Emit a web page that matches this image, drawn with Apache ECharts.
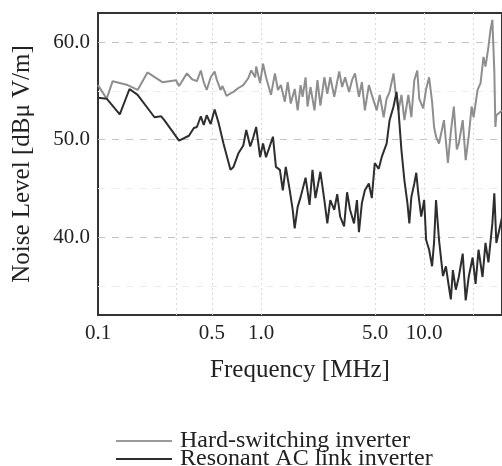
<!DOCTYPE html>
<html>
<head>
<meta charset="utf-8">
<script src="https://cdn.jsdelivr.net/npm/echarts@6/dist/echarts.min.js"></script>
<style>
  html, body { margin: 0; padding: 0; background: #fff; }
  #chart { width: 502px; height: 466px; }
</style>
</head>
<body>
<div id="chart"></div>
<script>
// frequency [MHz] / noise level [dBuV/m]
var hardFreq = [0.100, 0.113, 0.123, 0.152, 0.175, 0.201, 0.248, 0.301, 0.314, 0.351, 0.377, 0.404, 0.427, 0.445, 0.464, 0.491, 0.519, 0.534, 0.564, 0.580, 0.614, 0.658, 0.677, 0.726, 0.778, 0.834, 0.870, 0.920, 0.933, 0.986, 1.028, 1.072, 1.150, 1.216, 1.268, 1.322, 1.398, 1.457, 1.520, 1.607, 1.676, 1.747, 1.797, 1.874, 1.927, 2.009, 2.125, 2.216, 2.310, 2.443, 2.547, 2.656, 2.809, 3.012, 3.141, 3.274, 3.462, 3.611, 3.765, 3.981, 4.151, 4.329, 4.578, 4.773, 5.117, 5.337, 5.642, 5.884, 6.136, 6.488, 6.672, 6.956, 7.255, 7.566, 7.998, 8.341, 8.698, 9.070, 9.326, 9.861, 10.28, 10.72, 11.18, 11.50, 11.82, 12.33, 13.22, 13.98, 14.57, 15.20, 15.85, 16.30, 17.23, 17.97, 18.74, 19.54, 20.09, 21.25, 22.16, 23.10, 23.76, 24.77, 25.47, 26.18, 26.92, 27.32, 27.70, 30.0];
var hardLevel = [55.6, 54.2, 56.0, 55.6, 55.1, 56.9, 55.9, 56.1, 55.5, 56.8, 56.2, 56.0, 57.1, 55.9, 55.1, 56.4, 57.0, 56.2, 55.1, 55.5, 54.5, 54.8, 54.9, 55.3, 55.6, 56.3, 57.1, 56.4, 57.5, 55.8, 57.8, 56.4, 54.6, 56.8, 55.1, 55.6, 53.9, 55.9, 53.7, 55.2, 53.0, 55.6, 54.4, 56.4, 53.4, 55.4, 53.0, 56.1, 53.5, 56.4, 54.7, 56.4, 54.4, 57.0, 55.4, 56.4, 54.9, 56.1, 56.8, 54.4, 55.9, 53.0, 55.6, 54.6, 53.0, 54.6, 52.3, 54.2, 54.9, 56.8, 54.9, 53.0, 54.6, 52.0, 54.6, 52.3, 56.1, 57.1, 54.2, 53.2, 55.2, 56.4, 53.9, 51.3, 50.3, 49.6, 52.0, 47.6, 50.8, 53.4, 49.0, 49.6, 52.0, 47.9, 50.3, 53.4, 52.3, 55.1, 55.8, 58.5, 57.5, 59.5, 61.2, 62.3, 57.0, 51.3, 52.5, 53.0];

var resFreq = [0.100, 0.113, 0.136, 0.156, 0.175, 0.222, 0.244, 0.255, 0.314, 0.361, 0.387, 0.404, 0.427, 0.445, 0.464, 0.491, 0.519, 0.549, 0.588, 0.649, 0.677, 0.726, 0.778, 0.811, 0.858, 0.894, 0.933, 0.986, 1.028, 1.072, 1.134, 1.182, 1.233, 1.304, 1.359, 1.417, 1.499, 1.563, 1.607, 1.676, 1.747, 1.797, 1.874, 1.982, 2.066, 2.154, 2.310, 2.443, 2.547, 2.656, 2.809, 2.929, 3.054, 3.228, 3.367, 3.511, 3.713, 3.871, 3.981, 4.151, 4.329, 4.578, 4.773, 4.977, 5.262, 5.487, 5.884, 6.136, 6.488, 6.765, 6.956, 7.255, 7.566, 7.889, 8.110, 8.341, 8.698, 8.944, 9.196, 9.590, 10.0, 10.28, 10.72, 11.18, 11.50, 11.82, 12.33, 13.04, 13.59, 14.17, 14.57, 14.99, 15.63, 16.30, 17.23, 17.97, 18.74, 19.82, 20.66, 21.54, 22.79, 23.76, 24.77, 26.18, 26.92, 27.70, 30.0];
var resLevel = [54.3, 54.2, 52.6, 55.2, 54.6, 52.3, 52.4, 52.0, 49.9, 50.4, 51.2, 51.3, 52.4, 51.5, 52.5, 51.6, 53.1, 51.7, 49.6, 46.9, 47.2, 48.6, 49.4, 51.0, 49.3, 50.2, 51.3, 48.2, 49.6, 48.2, 49.4, 50.3, 47.2, 46.9, 44.8, 47.2, 44.8, 42.8, 40.9, 43.1, 44.1, 44.1, 46.1, 43.3, 46.9, 44.0, 46.7, 43.8, 41.4, 43.8, 42.8, 44.4, 42.1, 41.1, 44.6, 42.8, 41.4, 43.8, 40.5, 43.5, 44.8, 45.5, 44.0, 47.6, 47.0, 48.2, 49.6, 52.0, 53.4, 54.9, 53.0, 48.9, 45.8, 43.5, 41.4, 44.1, 45.5, 46.6, 44.5, 42.1, 43.8, 39.7, 38.7, 37.0, 39.5, 43.8, 39.7, 36.0, 37.0, 34.9, 33.6, 36.6, 34.6, 35.9, 38.3, 33.5, 35.9, 37.9, 35.2, 38.7, 35.9, 39.4, 37.4, 41.4, 44.5, 39.4, 42.0];

var seriesNames = ['Hard-switching inverter', 'Resonant AC link inverter'];
var xLabelValues = [0.1, 0.5, 1, 5, 10];
var xGridValues = [0.3, 0.5, 1, 5, 10, 20];
var yLabelValues = [40, 50, 60];
var yGridValues = [35, 40, 45, 50, 55, 60];

var font = 'Liberation Serif';

function pairs(xs, ys) {
  return xs.map(function(x, i) { return [x, ys[i]] })
}

// one legend per row, so the two rows can sit tight like the print
function legendRow(name, top) {
  return {
    orient: 'horizontal',
    left: 116,
    top: top,
    padding: 0,
    icon: 'rect',
    itemWidth: 56,
    itemHeight: 2,
    textStyle: { fontFamily: font, fontSize: 24, color: '#222', padding: [0, 0, 0, 3] },
    data: [name]
  }
}

var chart = echarts.init(document.getElementById('chart'))

chart.setOption({
  animation: false,
  textStyle: { fontFamily: font },
  grid: {
    left: 98,
    top: 13,
    bottom: 151,
    right: -5,
    show: true,
    borderColor: '#333',
    borderWidth: 2
  },
  legend: [legendRow(seriesNames[0], 429), legendRow(seriesNames[1], 447)],
  xAxis: {
    type: 'log',
    logBase: 10,
    min: 0.1,
    max: 30,
    name: 'Frequency [MHz]',
    nameLocation: 'middle',
    nameGap: 43,
    nameTextStyle: { fontFamily: font, fontSize: 25, color: '#222' },
    axisLine: { show: false },
    axisTick: { show: false, customValues: xGridValues },
    axisLabel: {
      customValues: xLabelValues,
      fontFamily: font,
      fontSize: 21,
      color: '#222',
      margin: 8,
      formatter: function(v) { return v < 1 ? String(v) : v.toFixed(1) }
    },
    splitLine: {
      show: true,
      lineStyle: { color: '#d8d8d8', type: [2, 3], width: 1 }
    }
  },
  yAxis: {
    type: 'value',
    min: 32,
    max: 63,
    name: 'Noise Level [dBμ V/m]',
    nameLocation: 'middle',
    nameRotate: 90,
    nameGap: 63,
    nameTextStyle: { fontFamily: font, fontSize: 25, color: '#222' },
    axisLine: { show: false },
    axisTick: { show: false, customValues: yGridValues },
    axisLabel: {
      customValues: yLabelValues,
      fontFamily: font,
      fontSize: 21,
      color: '#222',
      margin: 8,
      formatter: function(v) { return v.toFixed(1) }
    },
    splitLine: {
      show: true,
      lineStyle: { color: ['#ececec', '#c4c4c4'], type: [7, 7], width: 1 }
    }
  },
  series: [
    {
      name: seriesNames[0],
      type: 'line',
      symbol: 'none',
      data: pairs(hardFreq, hardLevel),
      lineStyle: { color: '#8e8e8e', width: 2 },
      itemStyle: { color: '#9a9a9a' }
    },
    {
      name: seriesNames[1],
      type: 'line',
      symbol: 'none',
      data: pairs(resFreq, resLevel),
      lineStyle: { color: '#2e2e2e', width: 2 },
      itemStyle: { color: '#2e2e2e' }
    }
  ]
})
</script>
</body>
</html>
